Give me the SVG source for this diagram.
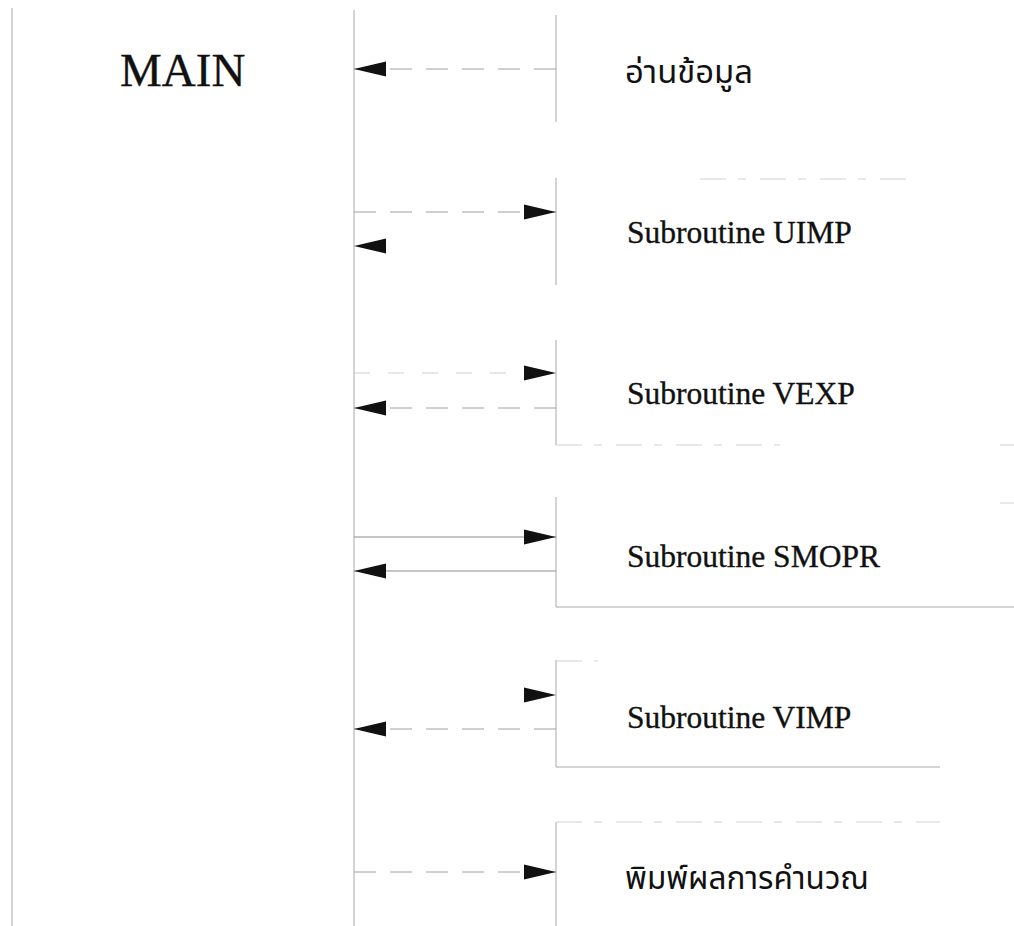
<svg xmlns="http://www.w3.org/2000/svg" width="1014" height="926" viewBox="0 0 1014 926">
  <defs>
    <marker id="ah" markerUnits="userSpaceOnUse" markerWidth="33" markerHeight="16" refX="32" refY="7.5" orient="auto" overflow="visible">
      <path d="M0,0 L32,7.5 L0,15 Z" fill="#111"/>
    </marker>
    <style>
      .bg { fill: #ffffff; }
      .frame { stroke: #a8a8a8; stroke-width: 1; fill: none; }
      .faint { stroke: #d2d2d2; stroke-width: 1; fill: none; stroke-dasharray: 26 12 8 14; }
      .lat { font-family: "Liberation Serif", "Times New Roman", serif; fill: #111; stroke: #111; stroke-width: 0.35; }
      .thai { font-family: "Noto Sans Thai", "Noto Sans Thai UI", "Noto Sans", "DejaVu Sans", sans-serif; fill: #111; }
      .dash { stroke: #a0a0a0; stroke-width: 1; fill: none; stroke-dasharray: 22 14; marker-end: url(#ah); }
      .dashlight { stroke: #cfcfcf; stroke-width: 1; fill: none; stroke-dasharray: 16 18; marker-end: url(#ah); }
      .solid { stroke: #8c8c8c; stroke-width: 1; fill: none; marker-end: url(#ah); }
      .bare { stroke: none; fill: none; marker-end: url(#ah); }
    </style>
  </defs>
  <rect class="bg" x="0" y="0" width="1014" height="926"/>

  <g id="main">
    <line class="frame" x1="12" y1="8" x2="12" y2="926"/>
    <line class="frame" x1="354" y1="10" x2="354" y2="926" stroke="#999"/>
    <text class="lat" x="120" y="86" font-size="47" stroke-width="0.6">MAIN</text>
  </g>

  <g id="read-data">
    <line class="frame" x1="556" y1="15" x2="556" y2="122"/>
    <text class="thai" x="625" y="83" font-size="32" textLength="128" lengthAdjust="spacingAndGlyphs">อ่านข้อมูล</text>
  </g>

  <g id="uimp">
    <line class="frame" x1="556" y1="178" x2="556" y2="285"/>
    <line class="faint" x1="700" y1="179" x2="910" y2="179"/>
    <text class="lat" x="627" y="243" font-size="31.5">Subroutine UIMP</text>
  </g>

  <g id="vexp">
    <line class="frame" x1="556" y1="340" x2="556" y2="445"/>
    <line class="faint" x1="556" y1="445" x2="780" y2="445"/>
    <line class="faint" x1="1000" y1="445" x2="1014" y2="445"/>
    <text class="lat" x="627" y="404" font-size="31.5">Subroutine VEXP</text>
  </g>

  <g id="smopr">
    <line class="frame" x1="556" y1="497" x2="556" y2="607"/>
    <line class="frame" x1="556" y1="607" x2="1014" y2="607" stroke="#bdbdbd"/>
    <line class="faint" x1="1000" y1="503" x2="1014" y2="503"/>
    <text class="lat" x="627" y="567" font-size="31.5">Subroutine SMOPR</text>
  </g>

  <g id="vimp">
    <line class="frame" x1="556" y1="660" x2="556" y2="767"/>
    <line class="faint" x1="556" y1="661" x2="598" y2="661"/>
    <line class="frame" x1="556" y1="767" x2="940" y2="767" stroke="#bdbdbd"/>
    <text class="lat" x="627" y="728" font-size="31.5">Subroutine VIMP</text>
  </g>

  <g id="print-results">
    <line class="frame" x1="556" y1="822" x2="556" y2="926"/>
    <line class="faint" x1="556" y1="822" x2="940" y2="822"/>
    <text class="thai" x="625" y="889" font-size="32" textLength="244" lengthAdjust="spacingAndGlyphs">พิมพ์ผลการคำนวณ</text>
  </g>

  <g id="connectors">
    <line class="dash" x1="556" y1="69" x2="354" y2="69"/>
    <line class="dash" x1="354" y1="212" x2="556" y2="212"/>
    <line class="bare" x1="390" y1="246" x2="354" y2="246"/>
    <line class="dashlight" x1="354" y1="373" x2="556" y2="373"/>
    <line class="dash" x1="556" y1="408" x2="354" y2="408"/>
    <line class="solid" x1="354" y1="537" x2="556" y2="537" stroke="#a8a8a8"/>
    <line class="solid" x1="556" y1="571" x2="354" y2="571"/>
    <line class="bare" x1="520" y1="695" x2="556" y2="695"/>
    <line class="dash" x1="556" y1="729" x2="354" y2="729"/>
    <line class="dash" x1="354" y1="872" x2="556" y2="872"/>
  </g>
</svg>
